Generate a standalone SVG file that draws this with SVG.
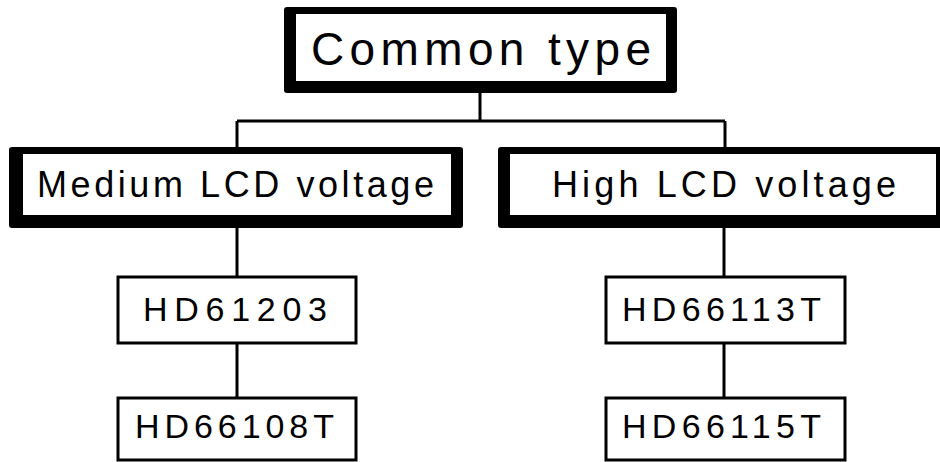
<svg xmlns="http://www.w3.org/2000/svg" width="940" height="462" viewBox="0 0 940 462">
<style>
.frame{fill:#000}
.inner{fill:#fff}
.box{fill:#fff;stroke:#000;stroke-width:3}
.wire{fill:none;stroke:#000;stroke-width:3}
text{font-family:"Liberation Sans",Arial,sans-serif;fill:#000}
.t1{font-size:46px}
.t2{font-size:36px}
.t3{font-size:34px}
</style>
<rect width="940" height="462" fill="#fff"/>
<g id="connectors">
<path class="wire" d="M480,93 V121 M237,121 H725 M237,121 V147 M725,121 V147"/>
<path class="wire" d="M237,228 V277 M237,343 V398"/>
<path class="wire" d="M724,228 V277 M724,343 V398"/>
</g>
<g id="common">
<rect class="frame" x="284" y="7" width="393" height="86" rx="3"/>
<rect class="inner" x="296" y="14" width="370" height="67"/>
<text class="t1" x="311" y="65" textLength="340" lengthAdjust="spacing">Common type</text>
</g>
<g id="medium">
<rect class="frame" x="9" y="147" width="454" height="81" rx="3"/>
<rect class="inner" x="23" y="154" width="428" height="61"/>
<text class="t2" x="37" y="197" textLength="397" lengthAdjust="spacing">Medium LCD voltage</text>
</g>
<g id="high">
<rect class="frame" x="498" y="147" width="445" height="81" rx="3"/>
<rect class="inner" x="510" y="154" width="426" height="61"/>
<text class="t2" x="552" y="197" textLength="344" lengthAdjust="spacing">High LCD voltage</text>
</g>
<g id="hd61203">
<rect class="box" x="118" y="277" width="238" height="66"/>
<text class="t3" x="143" y="321" textLength="184" lengthAdjust="spacing">HD61203</text>
</g>
<g id="hd66108t">
<rect class="box" x="118" y="398" width="238" height="62"/>
<text class="t3" x="135" y="438" textLength="199" lengthAdjust="spacing">HD66108T</text>
</g>
<g id="hd66113t">
<rect class="box" x="606" y="277" width="239" height="66"/>
<text class="t3" x="622" y="321" textLength="199" lengthAdjust="spacing">HD66113T</text>
</g>
<g id="hd66115t">
<rect class="box" x="606" y="398" width="239" height="62"/>
<text class="t3" x="622" y="438" textLength="199" lengthAdjust="spacing">HD66115T</text>
</g>
</svg>
